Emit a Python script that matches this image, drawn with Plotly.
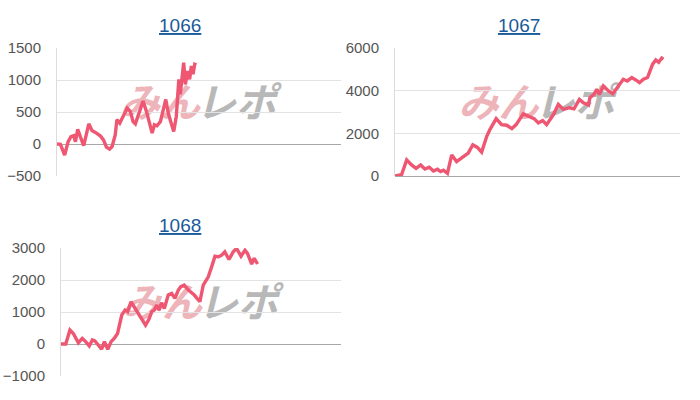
import plotly.graph_objects as go

# ---- data (x = progress index, y = cumulative difference) ----
x_1066 = [0, 1.2, 2.7, 3.9, 4.9, 5.9, 6.5, 7.3, 8.2, 9.4, 11.2, 12.3, 13.9, 15.3, 16.4, 17.4,
          18.5, 19.4, 20.5, 21.1, 22.1, 24.7, 25.8, 26.8, 27.6, 28.8, 30.3, 31.5, 32.9, 33.5,
          34.3, 35.2, 36.4, 37.6, 38.3, 39.3, 40.5, 41.1, 42.0, 42.9, 43.4, 44.0, 44.6, 45.2,
          46.0, 46.7, 47.3, 47.9, 48.5, 49.1]
y_1066 = [0, -5, -175, 35, 115, 130, 35, 230, 115, -25, 315, 210, 170, 125, 60, -50,
          -80, -40, 140, 380, 325, 560, 510, 350, 315, 485, 670, 510, 275, 170,
          300, 285, 350, 560, 695, 460, 250, 195, 430, 1010, 775, 1035, 1270, 930,
          1140, 1010, 1220, 1090, 1245, 1235]

x_1067 = [0, 2.3, 4.1, 5.8, 7.4, 9.0, 10.5, 12.0, 13.5, 14.9, 16.0, 17.0, 18.4, 19.9, 21.6,
          23.4, 25.7, 27.3, 28.9, 30.4, 32.2, 33.3, 35.5, 37.4, 39.2, 41.0, 42.5, 45.0, 46.8,
          48.8, 50.3, 51.8, 53.2, 55.6, 57.3, 59.1, 61.2, 62.8, 64.7, 66.1, 67.9, 68.4, 69.8,
          70.8, 71.7, 73.1, 74.9, 76.4, 78.4, 80.1, 81.5, 83.1, 84.6, 85.8, 87.2, 88.6, 90.4,
          91.5, 92.5, 93.6, 94.2]
y_1067 = [0, 60, 755, 520, 360, 520, 330, 410, 235, 315, 205, 270, 125, 990, 675,
          865, 1070, 1465, 1340, 1120, 1860, 2175, 2690, 2410, 2380, 2220, 2410, 2910, 2800,
          2690, 2490, 2600, 2410, 2880, 3355, 3120, 3200, 3150, 3590, 3435, 3325, 3670, 3825,
          4060, 3825, 4220, 3985, 3860, 4220, 4535, 4455, 4615, 4490, 4380, 4535, 4615, 5245,
          5435, 5325, 5530, 5480]

x_1068 = [0, 1.7, 3.2, 4.4, 6.2, 7.6, 8.8, 10.1, 11.2, 12.1, 13.3, 14.5, 15.5, 16.7, 17.9,
          19.0, 20.2, 21.7, 22.9, 23.8, 25.0, 26.4, 28.6, 30.2, 31.4, 32.4, 33.3, 34.2, 35.0,
          35.9, 36.9, 38.3, 39.5, 40.7, 41.9, 42.8, 44.0, 45.5, 47.6, 49.6, 50.8, 51.6, 52.6,
          54.0, 55.0, 56.2, 57.4, 58.5, 60.0, 61.5, 62.7, 64.3, 65.7, 66.6, 68.1, 69.0, 70.2]
y_1068 = [0, 0, 435, 330, 40, 175, 75, -60, 125, 95, -30, -165, 75, -165, 75,
          175, 330, 905, 1060, 1010, 1320, 1110, 800, 590, 770, 1010, 1060, 1215, 1060,
          1290, 1110, 1530, 1580, 1425, 1685, 1790, 1840, 1685, 1530, 1320, 1840, 1945, 2100,
          2465, 2745, 2725, 2775, 2880, 2640, 2880, 2985, 2745, 2930, 2830, 2500, 2680, 2500]

titles = ["1066", "1067", "1068"]
y_ranges = [[-500, 1500], [0, 6000], [-1000, 3000]]
y_dticks = [500, 2000, 1000]
watermark = ["みん", "レポ"]

W, H = 700, 400
# plot rectangles in pixels (left, right, top, bottom)
rects = [(57, 341, 48, 176), (395, 680, 48, 176), (61, 341, 248, 376)]
title_pos = [(180, 26), (519, 26), (180, 226)]
series = [(x_1066, y_1066), (x_1067, y_1067), (x_1068, y_1068)]

LINE = "#ee5672"
FONT = "Liberation Sans, Arial, sans-serif"
WM_FONT = "Noto Sans CJK JP"

fig = go.Figure()
for i, ((xs, ys), (l, r, t, b)) in enumerate(zip(series, rects)):
    n = "" if i == 0 else str(i + 1)
    fig.add_trace(go.Scatter(x=xs, y=ys, mode="lines",
                             line=dict(color=LINE, width=3.4),
                             xaxis="x" + n, yaxis="y" + n, hoverinfo="skip",
                             showlegend=False))
    fig.layout["xaxis" + n] = dict(domain=[l / W, r / W], range=[0, 100],
                                   visible=False, anchor="y" + n, fixedrange=True,
                                   automargin=False)
    fig.layout["yaxis" + n] = dict(domain=[1 - b / H, 1 - t / H], range=y_ranges[i],
                                   dtick=y_dticks[i], anchor="x" + n, automargin=False,
                                   showgrid=True, gridcolor="#e3e3e3", gridwidth=1,
                                   zeroline=True, zerolinecolor="#a8a8a8", zerolinewidth=1,
                                   showline=True, linecolor="#dcdcdc", linewidth=1,
                                   ticks="", ticklabelstandoff=12,
                                   tickfont=dict(family=FONT, size=15, color="#555555"),
                                   fixedrange=True)
    # title
    tx, ty = title_pos[i]
    fig.add_annotation(text="<u>" + titles[i] + "</u>", xref="paper", yref="paper",
                       x=tx / W, y=1 - ty / H, showarrow=False,
                       font=dict(family=FONT, size=19, color="#1a5a9a"),
                       xanchor="center", yanchor="middle")
    # watermark (drawn below the line)
    cx = (l + r) / 2
    cy = (t + b) / 2 - 6
    fig.add_shape(type="rect", xref="paper", yref="paper", layer="below",
                  x0=(cx - 100) / W, x1=(cx + 4) / W,
                  y0=1 - (cy + 22) / H, y1=1 - (cy - 22) / H,
                  line=dict(width=0), fillcolor="rgba(0,0,0,0)",
                  label=dict(text="<i><b>" + watermark[0] + "</b></i>",
                             textposition="middle right", padding=0,
                             font=dict(family=WM_FONT, size=40, color="#edb4ba")))
    fig.add_shape(type="rect", xref="paper", yref="paper", layer="below",
                  x0=(cx - 6) / W, x1=(cx + 100) / W,
                  y0=1 - (cy + 22) / H, y1=1 - (cy - 22) / H,
                  line=dict(width=0), fillcolor="rgba(0,0,0,0)",
                  label=dict(text="<i><b>" + watermark[1] + "</b></i>",
                             textposition="middle left", padding=0,
                             font=dict(family=WM_FONT, size=40, color="#b8b8b8")))

fig.update_layout(width=W, height=H, margin=dict(l=0, r=0, t=0, b=0, pad=0, autoexpand=False),
                  paper_bgcolor="white", plot_bgcolor="white",
                  font=dict(family=FONT))

fig.write_html("out.html", config={"displayModeBar": False},
               post_script="document.body.style.margin='0';")
